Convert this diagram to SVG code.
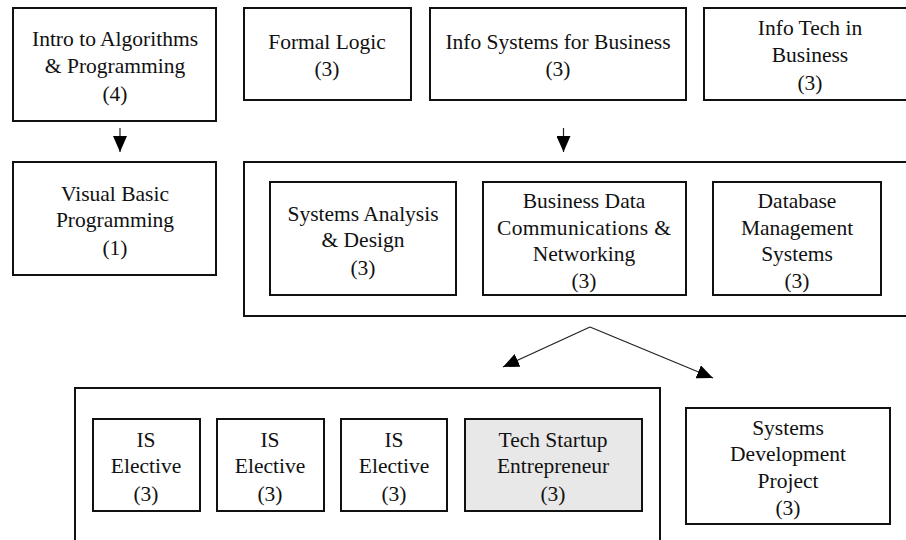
<svg xmlns="http://www.w3.org/2000/svg" width="906" height="540" viewBox="0 0 906 540">
<defs>
<style>
.box{fill:#fff;stroke:#111;stroke-width:2}
.grey{fill:#e8e8e8}
.ln{stroke:#222;stroke-width:1.2;fill:none}
</style>
<marker id="ah" viewBox="0 0 16 14" refX="16" refY="7" markerWidth="16" markerHeight="14" markerUnits="userSpaceOnUse" orient="auto">
<path d="M0,0 L16,7 L0,14 Z" fill="#000"/>
</marker>
</defs>
<rect width="906" height="540" fill="#fff"/>
<g font-family="Liberation Serif" font-size="21.5" fill="#111" text-anchor="middle">
<g id="intro"><rect class="box" x="13" y="8" width="203" height="113"/>
<text x="115" y="46">Intro to Algorithms</text><text x="115" y="73">&amp; Programming</text><text x="115" y="101">(4)</text></g>
<g id="formal"><rect class="box" x="244" y="8" width="167" height="92"/>
<text x="327" y="49">Formal Logic</text><text x="327" y="76">(3)</text></g>
<g id="infosys"><rect class="box" x="430" y="8" width="256" height="92"/>
<text x="558" y="49">Info Systems for Business</text><text x="558" y="76">(3)</text></g>
<g id="infotech"><rect class="box" x="704" y="8" width="212" height="92"/>
<text x="810" y="35">Info Tech in</text><text x="810" y="62">Business</text><text x="810" y="90">(3)</text></g>
<g id="vb"><rect class="box" x="13" y="162" width="203" height="113"/>
<text x="115" y="201">Visual Basic</text><text x="115" y="227">Programming</text><text x="115" y="255">(1)</text></g>
<g id="core"><rect class="box" x="244" y="162" width="672" height="154"/></g>
<g id="sad"><rect class="box" x="270" y="182" width="186" height="113"/>
<text x="363" y="221">Systems Analysis</text><text x="363" y="247">&amp; Design</text><text x="363" y="275">(3)</text></g>
<g id="bdc"><rect class="box" x="483" y="182" width="203" height="113"/>
<text x="584" y="208">Business Data</text><text x="584" y="235" textLength="174" lengthAdjust="spacing">Communications &amp;</text><text x="584" y="261">Networking</text><text x="584" y="288">(3)</text></g>
<g id="dbms"><rect class="box" x="713" y="182" width="168" height="113"/>
<text x="797" y="208">Database</text><text x="797" y="235">Management</text><text x="797" y="261">Systems</text><text x="797" y="288">(3)</text></g>
<g id="electives"><rect class="box" x="75" y="388" width="585" height="162"/></g>
<g id="ise1"><rect class="box" x="93" y="419" width="107" height="92"/>
<text x="146" y="447">IS</text><text x="146" y="473">Elective</text><text x="146" y="501">(3)</text></g>
<g id="ise2"><rect class="box" x="217" y="419" width="107" height="92"/>
<text x="270" y="447">IS</text><text x="270" y="473">Elective</text><text x="270" y="501">(3)</text></g>
<g id="ise3"><rect class="box" x="341" y="419" width="106" height="92"/>
<text x="394" y="447">IS</text><text x="394" y="473">Elective</text><text x="394" y="501">(3)</text></g>
<g id="startup"><rect class="box grey" x="465" y="419" width="177" height="92"/>
<text x="553" y="447">Tech Startup</text><text x="553" y="473">Entrepreneur</text><text x="553" y="501">(3)</text></g>
<g id="sdp"><rect class="box" x="686" y="408" width="204" height="116"/>
<text x="788" y="435">Systems</text><text x="788" y="461">Development</text><text x="788" y="488">Project</text><text x="788" y="515">(3)</text></g>
</g>
<g id="connectors">
<line class="ln" x1="120" y1="128" x2="120" y2="152" marker-end="url(#ah)"/>
<line class="ln" x1="563.5" y1="128" x2="563.5" y2="152" marker-end="url(#ah)"/>
<polyline class="ln" points="590,327 503,367" marker-end="url(#ah)"/>
<polyline class="ln" points="590,327 713,378" marker-end="url(#ah)"/>
</g>
</svg>
